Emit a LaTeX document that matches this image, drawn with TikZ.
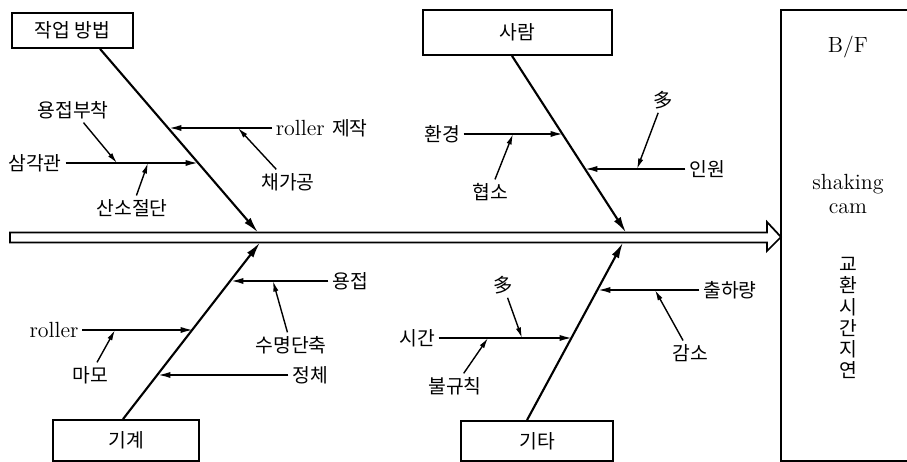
\documentclass[tikz,border=0pt]{standalone}
\usepackage{fontspec}
\newfontfamily\kr{Noto Sans CJK KR}
\usetikzlibrary{arrows.meta,calc}
\newcommand{\krs}{\kr\fontsize{11}{13}\selectfont}
\newcommand{\lat}{\rmfamily\fontsize{12.5}{14}\selectfont}

\begin{document}
\begin{tikzpicture}[x=0.02cm,y=-0.02cm,>=Latex,
  catbox/.style={draw,line width=1pt,inner sep=0pt,font=\krs},
  lbl/.style={inner sep=2pt,font=\krs},
  bone/.style={line width=1.2pt,-{Latex[length=9pt,width=4.5pt]}},
  twig/.style={line width=1pt,-{Latex[length=7pt,width=3.5pt]}},
  sub/.style={line width=0.8pt,-{Latex[length=6pt,width=3pt]}}]
  \useasboundingbox (0,0) rectangle (907,462);
  % spine
  \draw[line width=1pt,line join=miter] (10,232.5) -- (767,232.5) -- (767,222) -- (781,237)
    -- (767,251) -- (767,242.5) -- (10,242.5) -- cycle;
  \coordinate (ta) at (258,232.5);
  \coordinate (tp) at (626,232.5);
  \coordinate (tm) at (260,242.5);
  \coordinate (to) at (623,242.5);
  % effect box
  \draw[line width=1pt] (907,10) -- (781,10) -- (781,461) -- (907,461);
  \node[font=\lat] (bf) at (848,47) {B/F};
  \node[font=\rmfamily\fontsize{12.5}{13.6}\selectfont,align=center] (cam) at (848,194) {shaking\\cam};
  \node[font=\kr\fontsize{11}{12}\selectfont,align=center] (delay) at (848,318) {교\\환\\시\\간\\지\\연};
  % categories
  \node[catbox,minimum width=2.42cm,minimum height=0.7cm] (bm) at (72.5,30.5) {작업 방법};
  \node[catbox,minimum width=3.78cm,minimum height=0.9cm] (sr) at (517.5,32.5) {사람};
  \node[catbox,minimum width=2.92cm,minimum height=0.82cm] (gg) at (126,440.5) {기계};
  \node[catbox,minimum width=3.04cm,minimum height=0.8cm] (gt) at (537,441) {기타};
  \draw[bone] ($(bm.south)+(27.5,0)$) -- (ta);
  \draw[bone] ($(sr.south)+(-5.5,0)$) -- (tp);
  \draw[bone] ($(gg.north)+(-3,0)$) -- (tm);
  \draw[bone] ($(gt.north)+(-10,0)$) -- (to);
  % 작업 방법
  \node[lbl,anchor=west] (rj) at (272,128) {\lat roller {\krs 제작}};
  \coordinate (a1) at (169,128);
  \coordinate (b1) at (238,128);
  \draw[twig] (rj.west) -- (a1);
  \node[lbl] (cg) at (288,182) {채가공};
  \draw[sub] (cg) -- (b1);
  \node[lbl] (sk) at (35,163) {삼각관};
  \coordinate (a2) at (198,163);
  \coordinate (b2) at (117,163);
  \coordinate (b3) at (148,163);
  \draw[twig] (sk.east) -- (a2);
  \node[lbl] (yb) at (73,110) {용접부착};
  \draw[sub] (yb) -- (b2);
  \node[lbl] (sj) at (132,208) {산소절단};
  \draw[sub] (sj) -- (b3);
  % 사람
  \node[lbl] (hg) at (442,134) {환경};
  \coordinate (a3) at (563,134);
  \coordinate (b4) at (513,134);
  \draw[twig] (hg.east) -- (a3);
  \node[lbl] (hs) at (490,192) {협소};
  \draw[sub] (hs) -- (b4);
  \node[lbl] (iw) at (707,169) {인원};
  \coordinate (a4) at (585,169);
  \coordinate (b5) at (637,169);
  \draw[twig] (iw.west) -- (a4);
  \node[lbl] (da) at (663,100) {多};
  \draw[sub] (da) -- (b5);
  % 기계
  \node[lbl] (yj) at (350,281) {용접};
  \coordinate (a5) at (231,281);
  \coordinate (b6) at (273,281);
  \draw[twig] (yj.west) -- (a5);
  \node[lbl] (sm) at (291,345) {수명단축};
  \draw[sub] (sm) -- (b6);
  \node[lbl,font=\lat] (ro) at (54,330) {roller};
  \coordinate (a6) at (193,330);
  \coordinate (b7) at (115,330);
  \draw[twig] (ro.east) -- (a6);
  \node[lbl] (mm) at (90,375) {마모};
  \draw[sub] (mm) -- (b7);
  \node[lbl] (jc) at (310,375) {정체};
  \coordinate (a7) at (158,375);
  \draw[twig] (jc.west) -- (a7);
  % 기타
  \node[lbl] (ch) at (730,290) {출하량};
  \coordinate (a8) at (598,290);
  \coordinate (b8) at (655,290);
  \draw[twig] (ch.west) -- (a8);
  \node[lbl] (gs) at (690,353) {감소};
  \draw[sub] (gs) -- (b8);
  \node[lbl] (sg) at (417,338) {시간};
  \coordinate (a9) at (572,338);
  \coordinate (b9) at (522,338);
  \coordinate (b10) at (488,338);
  \draw[twig] (sg.east) -- (a9);
  \node[lbl] (db) at (503,285) {多};
  \draw[sub] (db) -- (b9);
  \node[lbl] (bg) at (455,386) {불규칙};
  \draw[sub] (bg) -- (b10);
\end{tikzpicture}
\end{document}
